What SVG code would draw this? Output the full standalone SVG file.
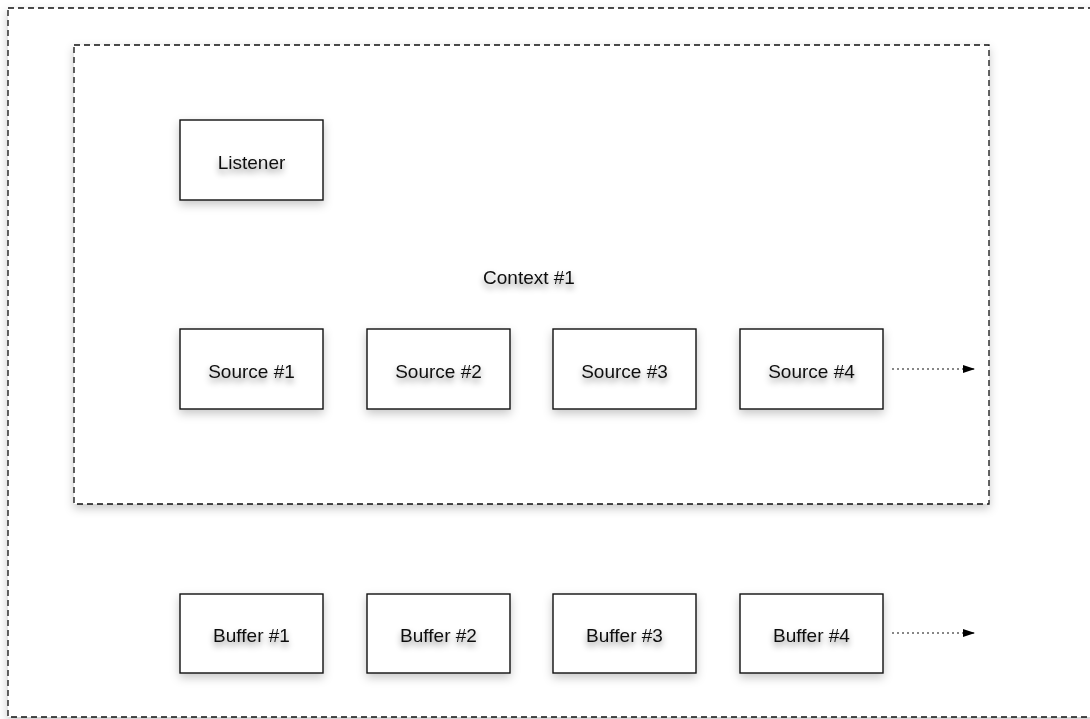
<svg xmlns="http://www.w3.org/2000/svg" width="1090" height="719" viewBox="0 0 1090 719">
<style>
.box{fill:#fff;stroke:#111;stroke-width:1.4;filter:url(#sh)}
.grp{fill:#fff;stroke:#111;stroke-width:1.3;stroke-dasharray:6,4;filter:url(#sh)}
.lbl{font-family:"Liberation Sans",Arial,sans-serif;font-size:19px;fill:#111;text-anchor:middle;filter:url(#tsh)}
.conn{stroke:#111;stroke-width:1.2;stroke-dasharray:2,3;fill:none}
</style>
<defs>
<filter id="sh" x="-20%" y="-20%" width="140%" height="150%">
<feDropShadow dx="0" dy="4" stdDeviation="5" flood-color="#000" flood-opacity="0.22"/>
</filter>
<filter id="tsh" x="-20%" y="-50%" width="140%" height="220%">
<feDropShadow dx="0" dy="4" stdDeviation="3" flood-color="#000" flood-opacity="0.45"/>
</filter>
<marker id="ah" markerWidth="12" markerHeight="10" refX="12" refY="5" orient="auto" markerUnits="userSpaceOnUse">
<path d="M0,1 L12,5 L0,9 Z" fill="#000"/>
</marker>
</defs>
<rect width="1090" height="719" fill="#fff"/>
<g id="outer"><rect class="grp" x="8" y="8" width="1090" height="709"/></g>
<g id="context1"><rect class="grp" x="74" y="45" width="915" height="459"/><text class="lbl" x="529" y="284">Context #1</text></g>
<g id="listener"><rect class="box" x="180" y="120" width="143" height="80"/><text class="lbl" x="251.5" y="169">Listener</text></g>
<g id="source1"><rect class="box" x="180" y="329" width="143" height="80"/><text class="lbl" x="251.5" y="378">Source #1</text></g>
<g id="source2"><rect class="box" x="367" y="329" width="143" height="80"/><text class="lbl" x="438.5" y="378">Source #2</text></g>
<g id="source3"><rect class="box" x="553" y="329" width="143" height="80"/><text class="lbl" x="624.5" y="378">Source #3</text></g>
<g id="source4"><rect class="box" x="740" y="329" width="143" height="80"/><text class="lbl" x="811.5" y="378">Source #4</text></g>
<g id="buffer1"><rect class="box" x="180" y="594" width="143" height="79"/><text class="lbl" x="251.5" y="642">Buffer #1</text></g>
<g id="buffer2"><rect class="box" x="367" y="594" width="143" height="79"/><text class="lbl" x="438.5" y="642">Buffer #2</text></g>
<g id="buffer3"><rect class="box" x="553" y="594" width="143" height="79"/><text class="lbl" x="624.5" y="642">Buffer #3</text></g>
<g id="buffer4"><rect class="box" x="740" y="594" width="143" height="79"/><text class="lbl" x="811.5" y="642">Buffer #4</text></g>
<g id="connectors">
<path class="conn" d="M892,369 L975,369" marker-end="url(#ah)"/>
<path class="conn" d="M892,633 L975,633" marker-end="url(#ah)"/>
</g>
</svg>
